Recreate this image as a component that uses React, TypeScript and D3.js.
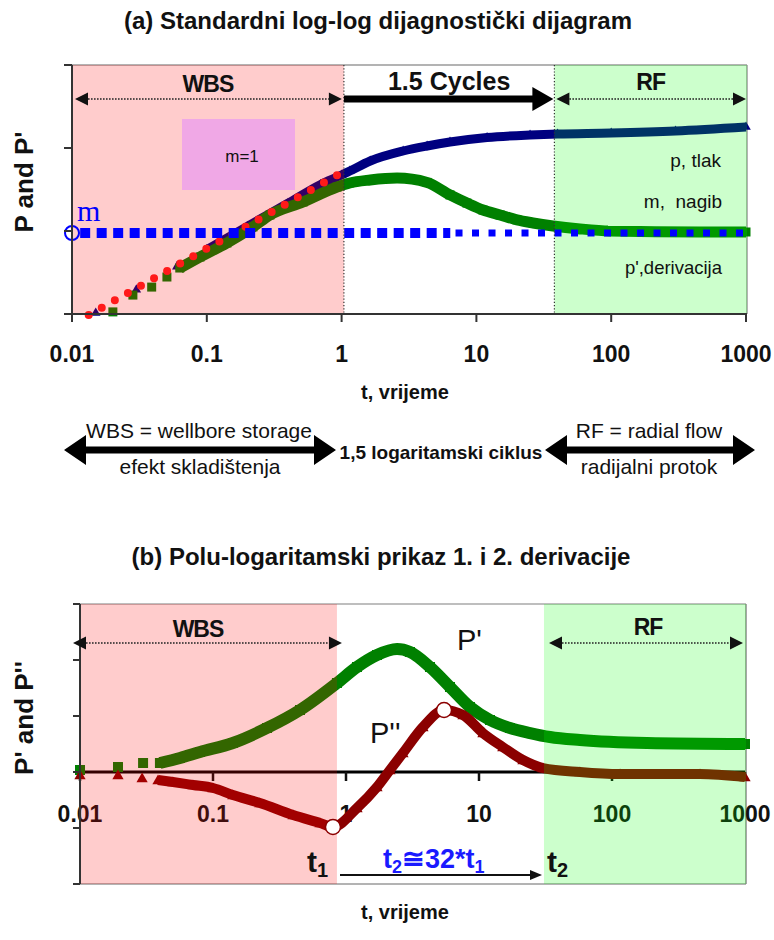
import React from "react";
import * as d3 from "d3";

const FONT = "'Liberation Sans', Arial, Helvetica, sans-serif";

// ---------- shared axis ticks ----------
const xTickValues = [0.01, 0.1, 1, 10, 100, 1000];
const xTickLabels = ["0.01", "0.1", "1", "10", "100", "1000"];

// ---------- Chart (a): log-log diagnostic plot ----------
const aYTickValues = [1, 10, 100, 1000];
const aPressureT = [0.015, 0.03, 0.06, 0.1, 0.2, 0.4, 0.7, 1.0, 1.15, 1.63, 2.86, 4.31, 6.37, 12, 25, 40, 100, 300, 1000];
const aPressureV = [1.03, 1.96, 3.72, 5.97, 11.4, 21.6, 36.4, 47.3, 52.8, 69.7, 92.0, 105.7, 118.1, 133.9, 143.5, 147.4, 151.6, 160.3, 179];
const aDerivT = [0.0201, 0.0283, 0.039, 0.0506, 0.063, 0.089, 0.141, 0.22, 0.294, 0.518, 0.925, 1.15, 1.63, 2.58, 4.31, 6.37, 8.51, 11.2, 15.0, 20.0, 26.3, 37.0, 58.7, 98, 456, 1000];
const aDerivV = [1.06, 1.69, 2.11, 2.79, 3.58, 4.86, 7.17, 11.2, 15.6, 22.4, 33.9, 37.9, 41.2, 43.5, 38.5, 27.2, 21.7, 17.9, 15.6, 13.6, 12.5, 11.5, 10.6, 10.0, 9.73, 9.73];
const aUnitSlopeT = [0.0133, 1.15];
const aUnitSlopeV = [0.97, 57.4];
const aSlopeLevel = 9.46;
const aSlopeBigT = [0.0115, 6.4];
const aSlopeSmallT = [7.0, 1000];
const aWbsEnd = 1.04;
const aRfStart = 37.9;

// ---------- Chart (b): semi-log 1st and 2nd derivative ----------
const bYTickValues = [-2, -1, 0, 1, 2, 3];
const bDerivT = [0.01, 0.0193, 0.0298, 0.0399, 0.0565, 0.0799, 0.141, 0.255, 0.451, 0.855, 1.21, 1.71, 2.42, 3.03, 4.28, 6.05, 8.55, 12.1, 17.1, 24.2, 34.2, 57.4, 183, 1000];
const bDerivV = [0.036, 0.089, 0.161, 0.161, 0.25, 0.357, 0.518, 0.786, 1.107, 1.589, 1.875, 2.089, 2.196, 2.143, 1.875, 1.518, 1.161, 0.929, 0.786, 0.696, 0.625, 0.571, 0.518, 0.5];
const bSecondT = [0.01, 0.0193, 0.0293, 0.0386, 0.05, 0.0708, 0.1, 0.141, 0.225, 0.4, 0.638, 0.798, 1.21, 1.71, 2.14, 2.68, 3.79, 5.46, 7.58, 10.7, 15.1, 21.4, 30.3, 57.4, 115, 459, 1000];
const bSecondV = [-0.054, -0.054, -0.107, -0.143, -0.179, -0.232, -0.286, -0.411, -0.554, -0.768, -0.911, -0.982, -0.643, -0.268, 0.036, 0.339, 0.804, 1.107, 1.018, 0.696, 0.446, 0.214, 0.071, 0.0, -0.036, -0.036, -0.089];
const bT1 = 0.798;
const bT1V = -0.982;
const bPeakT = 5.46;
const bPeakV = 1.107;
const bWbsEnd = 0.855;
const bRfStart = 30.8;

type Pt = { t: number; v: number };
const zip = (ts: number[], vs: number[]): Pt[] => ts.map((t, i) => ({ t, v: vs[i] }));

function DottedArrow({ x1, x2, y }: { x1: number; x2: number; y: number }) {
  const h = 13, w = 6.5;
  return (
    <g>
      <line x1={x1 + h} x2={x2 - h} y1={y} y2={y} stroke="#222" strokeWidth={1.6} strokeDasharray="1.6 1.4" />
      <path d={`M${x1},${y}L${x1 + h},${y - w}L${x1 + h},${y + w}Z`} fill="#111" />
      <path d={`M${x2},${y}L${x2 - h},${y - w}L${x2 - h},${y + w}Z`} fill="#111" />
    </g>
  );
}

function DoubleBlockArrow({ x1, x2, y }: { x1: number; x2: number; y: number }) {
  const head = 22, half = 15, th = 3.5;
  const d = `M${x1},${y}L${x1 + head},${y - half}L${x1 + head},${y - th}L${x2 - head},${y - th}L${x2 - head},${y - half}L${x2},${y}L${x2 - head},${y + half}L${x2 - head},${y + th}L${x1 + head},${y + th}L${x1 + head},${y + half}Z`;
  return <path d={d} fill="#000" />;
}

export default function App() {
  // scales
  const xA = d3.scaleLog().domain([0.01, 1000]).range([72, 746]);
  const yA = d3.scaleLog().domain([1, 1000]).range([314, 65]);
  const xB = d3.scaleLog().domain([0.01, 1000]).range([80, 745]);
  const yB = d3.scaleLinear().domain([-2, 3]).range([884, 604]);

  const aTop = 65, aBot = 314, aLeft = 72, aRight = 747;
  const bTop = 604, bBot = 884, bLeft = 80, bRight = 746;

  const lineA = d3.line<Pt>().x((d) => xA(d.t)).y((d) => yA(d.v)).curve(d3.curveMonotoneX);
  const lineB = d3.line<Pt>().x((d) => xB(d.t)).y((d) => yB(d.v)).curve(d3.curveMonotoneX);

  const aP = zip(aPressureT, aPressureV);
  const aD = zip(aDerivT, aDerivV);
  const aUnit = zip(aUnitSlopeT, aUnitSlopeV);
  const bD = zip(bDerivT, bDerivV);
  const bS = zip(bSecondT, bSecondV);

  const tri = d3.symbol(d3.symbolTriangle, 40)() as string;
  const triB = d3.symbol(d3.symbolTriangle, 55)() as string;
  const sq = d3.symbol(d3.symbolSquare, 81)() as string;
  const sqB = d3.symbol(d3.symbolSquare, 100)() as string;

  const xWa = xA(aWbsEnd), xRa = xA(aRfStart);
  const xWb = xB(bWbsEnd), xRb = xB(bRfStart);
  const yM = yA(aSlopeLevel);

  return (
    <div style={{ position: "absolute", left: 0, top: 0 }}>
      <svg width={774} height={940} style={{ display: "block", background: "#fff" }} fontFamily={FONT}>
        <rect x={0} y={0} width={774} height={940} fill="#fff" />

        {/* ================= Chart (a) ================= */}
        <text x={378} y={29} textAnchor="middle" fontSize={24} fontWeight="bold" fill="#111">
          (a) Standardni log-log dijagnostički dijagram
        </text>

        {/* border */}
        <line x1={aLeft} x2={aRight} y1={aTop} y2={aTop} stroke="#9a9a9a" strokeWidth={1.5} />
        <line x1={aRight} x2={aRight} y1={aTop} y2={aBot} stroke="#9a9a9a" strokeWidth={1.5} />

        {/* curves */}
        <path d={lineA(aP.filter((d) => d.t >= 0.1)) || ""} fill="none" stroke="#000080" strokeWidth={9} />
        {aP.map((d, i) => (
          <path key={"ap" + i} d={tri} transform={`translate(${xA(d.t)},${yA(d.v)})`} fill="#000080" />
        ))}
        <path d={lineA(aD.filter((d) => d.t >= 0.06)) || ""} fill="none" stroke="#008000" strokeWidth={11} />
        {aD.map((d, i) => (
          <path key={"ad" + i} d={sq} transform={`translate(${xA(d.t)},${yA(d.v)})`} fill="#008000" />
        ))}

        {/* regions overlay */}
        <rect x={aLeft} y={aTop} width={xWa - aLeft} height={aBot - aTop} fill="rgb(255,0,0)" fillOpacity={0.2} />
        <rect x={xRa} y={aTop} width={aRight - xRa} height={aBot - aTop} fill="rgb(0,255,0)" fillOpacity={0.2} />

        {/* m=1 box */}
        <rect x={182} y={119} width={113} height={71} fill="#f0a8e6" />
        <text x={242} y={162} textAnchor="middle" fontSize={17} fill="#111">m=1</text>

        {/* unit slope red dots */}
        <path d={lineA(aUnit) || ""} fill="none" stroke="#ff1a1a" strokeWidth={8} strokeLinecap="round" strokeDasharray="0 15" />

        {/* slope line m */}
        <line x1={xA(aSlopeBigT[0])} x2={xA(aSlopeBigT[1])} y1={yM} y2={yM} stroke="#0000ff" strokeWidth={10} strokeDasharray="10 6.5" />
        <line x1={xA(aSlopeSmallT[0])} x2={xA(aSlopeSmallT[1])} y1={yM} y2={yM} stroke="#0000ff" strokeWidth={7} strokeDasharray="7 9.5" />
        <circle cx={xA(0.01)} cy={yM} r={7} fill="none" stroke="#0000ff" strokeWidth={2} />
        <text x={77} y={221} fontFamily="'Liberation Serif', 'Times New Roman', serif" fontSize={30} fill="#0000ff">m</text>

        {/* label patch */}
        <rect x={608} y={212} width={137} height={14} fill="#ccffcc" />
        <text x={721} y={167} textAnchor="end" fontSize={19} fill="#111">p, tlak</text>
        <text x={722} y={208} textAnchor="end" fontSize={19} fill="#111">m,{"\u00A0\u00A0"}nagib</text>
        <text x={722} y={274} textAnchor="end" fontSize={18.5} fill="#111">p',derivacija</text>

        {/* region separators */}
        <line x1={xWa} x2={xWa} y1={aTop} y2={aBot} stroke="#333" strokeWidth={1.2} strokeDasharray="1.2 2" />
        <line x1={xRa} x2={xRa} y1={aTop} y2={aBot} stroke="#333" strokeWidth={1.2} strokeDasharray="1.2 2" />

        {/* region arrows */}
        <DottedArrow x1={aLeft + 3} x2={xWa - 2} y={99} />
        <text x={(aLeft + xWa) / 2} y={92} textAnchor="middle" fontSize={23} fontWeight="bold" letterSpacing={-1} fill="#111">WBS</text>
        <line x1={xWa} x2={xRa - 20} y1={99} y2={99} stroke="#000" strokeWidth={7} />
        <path d={`M${xRa - 1},99L${xRa - 22},87L${xRa - 22},111Z`} fill="#000" />
        <text x={(xWa + xRa) / 2} y={90} textAnchor="middle" fontSize={25} fontWeight="bold" fill="#111">1.5 Cycles</text>
        <DottedArrow x1={xRa + 2} x2={aRight - 1} y={99} />
        <text x={(xRa + aRight) / 2} y={90} textAnchor="middle" fontSize={23} fontWeight="bold" letterSpacing={-1} fill="#111">RF</text>

        {/* axes */}
        <line x1={aLeft} x2={aLeft} y1={aTop} y2={aBot} stroke="#333" strokeWidth={2} />
        {aYTickValues.map((v) => (
          <line key={"ayt" + v} x1={aLeft - 8} x2={aLeft} y1={yA(v)} y2={yA(v)} stroke="#333" strokeWidth={2} />
        ))}
        <line x1={aLeft - 8} x2={aRight} y1={aBot} y2={aBot} stroke="#333" strokeWidth={2} />
        {xTickValues.map((v, i) => (
          <g key={"axt" + v}>
            <line x1={xA(v)} x2={xA(v)} y1={aBot} y2={aBot + 8} stroke="#333" strokeWidth={2} />
            <text x={xA(v)} y={362} textAnchor="middle" fontSize={23} fontWeight="bold" fill="#111">{xTickLabels[i]}</text>
          </g>
        ))}
        <text transform="translate(33,182) rotate(-90)" textAnchor="middle" fontSize={26} fontWeight="bold" fill="#111">P and P'</text>
        <text x={405} y={399} textAnchor="middle" fontSize={20} fontWeight="bold" fill="#111">t, vrijeme</text>

        {/* ================= middle annotation ================= */}
        <text x={199} y={438} textAnchor="middle" fontSize={21} fill="#111">WBS = wellbore storage</text>
        <DoubleBlockArrow x1={64} x2={336} y={450} />
        <text x={200} y={474} textAnchor="middle" fontSize={21} fill="#111">efekt skladištenja</text>
        <text x={441} y={459} textAnchor="middle" fontSize={19} fontWeight="bold" fill="#111">1,5 logaritamski ciklus</text>
        <text x={649} y={438} textAnchor="middle" fontSize={21} fill="#111">RF = radial flow</text>
        <DoubleBlockArrow x1={545} x2={755} y={450} />
        <text x={649} y={474} textAnchor="middle" fontSize={21} fill="#111">radijalni protok</text>

        {/* ================= Chart (b) ================= */}
        <text x={381} y={565} textAnchor="middle" fontSize={24} fontWeight="bold" fill="#111">
          (b) Polu-logaritamski prikaz 1. i 2. derivacije
        </text>

        <line x1={bLeft} x2={bRight} y1={bTop} y2={bTop} stroke="#a8a8a8" strokeWidth={1.5} />
        <line x1={bLeft - 7} x2={bRight} y1={bBot} y2={bBot} stroke="#9a9a9a" strokeWidth={1.5} />
        <line x1={bRight} x2={bRight} y1={bTop} y2={bBot} stroke="#8a8a8a" strokeWidth={1.5} />

        {/* zero line and x ticks */}
        <line x1={bLeft} x2={xB(1000)} y1={yB(0)} y2={yB(0)} stroke="#000" strokeWidth={3} />
        {xTickValues.map((v, i) => (
          <g key={"bxt" + v}>
            <line x1={xB(v)} x2={xB(v)} y1={yB(0)} y2={yB(0) + 9} stroke="#111" strokeWidth={2.5} />
            <text x={xB(v)} y={822} textAnchor="middle" fontSize={23} fontWeight="bold" fill="#111">{xTickLabels[i]}</text>
          </g>
        ))}

        {/* curves */}
        <path d={lineB(bD.filter((d) => d.t >= 0.039)) || ""} fill="none" stroke="#008000" strokeWidth={12} />
        {bD.map((d, i) => (
          <path key={"bd" + i} d={sqB} transform={`translate(${xB(d.t)},${yB(d.v)})`} fill="#008000" />
        ))}
        <path d={lineB(bS.filter((d) => d.t >= 0.038)) || ""} fill="none" stroke="#8b0000" strokeWidth={10} />
        {bS.map((d, i) => (
          <path key={"bs" + i} d={triB} transform={`translate(${xB(d.t)},${yB(d.v) + 1})`} fill="#8b0000" />
        ))}

        {/* regions overlay */}
        <rect x={bLeft} y={bTop} width={xWb - bLeft} height={bBot - bTop} fill="rgb(255,0,0)" fillOpacity={0.2} />
        <rect x={xRb} y={bTop} width={bRight - xRb} height={bBot - bTop} fill="rgb(0,255,0)" fillOpacity={0.2} />

        {/* extreme markers */}
        <circle cx={xB(bT1)} cy={yB(bT1V)} r={7.5} fill="#fff" stroke="#8b0000" strokeWidth={1.5} />
        <circle cx={xB(bPeakT)} cy={yB(bPeakV)} r={7.5} fill="#fff" stroke="#8b0000" strokeWidth={1.5} />

        {/* left axis */}
        <line x1={bLeft} x2={bLeft} y1={bTop} y2={bBot} stroke="#333" strokeWidth={2} />
        {bYTickValues.map((v) => (
          <line key={"byt" + v} x1={bLeft - 7} x2={bLeft} y1={yB(v)} y2={yB(v)} stroke="#333" strokeWidth={2} />
        ))}

        {/* region arrows */}
        <DottedArrow x1={bLeft - 7} x2={xWb + 5} y={643} />
        <text x={198} y={637} textAnchor="middle" fontSize={23} fontWeight="bold" letterSpacing={-1} fill="#111">WBS</text>
        <DottedArrow x1={xRb + 5} x2={bRight - 3} y={643} />
        <text x={648} y={635} textAnchor="middle" fontSize={23} fontWeight="bold" letterSpacing={-1} fill="#111">RF</text>

        <text x={457} y={650} fontSize={29} fill="#111">P'</text>
        <text x={370} y={743} fontSize={29} fill="#111">P''</text>

        {/* t1 / t2 annotation */}
        <text x={328} y={872} textAnchor="end" fontSize={30} fontWeight="bold" fill="#111">
          t<tspan fontSize={20} dy={5}>1</tspan>
        </text>
        <text x={547} y={872} fontSize={30} fontWeight="bold" fill="#111">
          t<tspan fontSize={20} dy={5}>2</tspan>
        </text>
        <line x1={340} x2={534} y1={875} y2={875} stroke="#111" strokeWidth={2} />
        <path d="M542,875L530,870L530,880Z" fill="#111" />
        <text x={383} y={868} fontSize={27} fontWeight="bold" fill="#1a1aff">
          t<tspan fontSize={18} dy={5}>2</tspan>
          <tspan dy={-5}>≅32*t</tspan>
          <tspan fontSize={18} dy={5}>1</tspan>
        </text>

        <text transform="translate(33,718) rotate(-90)" textAnchor="middle" fontSize={26} fontWeight="bold" fill="#111">P' and P''</text>
        <text x={405} y={919} textAnchor="middle" fontSize={20} fontWeight="bold" fill="#111">t, vrijeme</text>
      </svg>
    </div>
  );
}
